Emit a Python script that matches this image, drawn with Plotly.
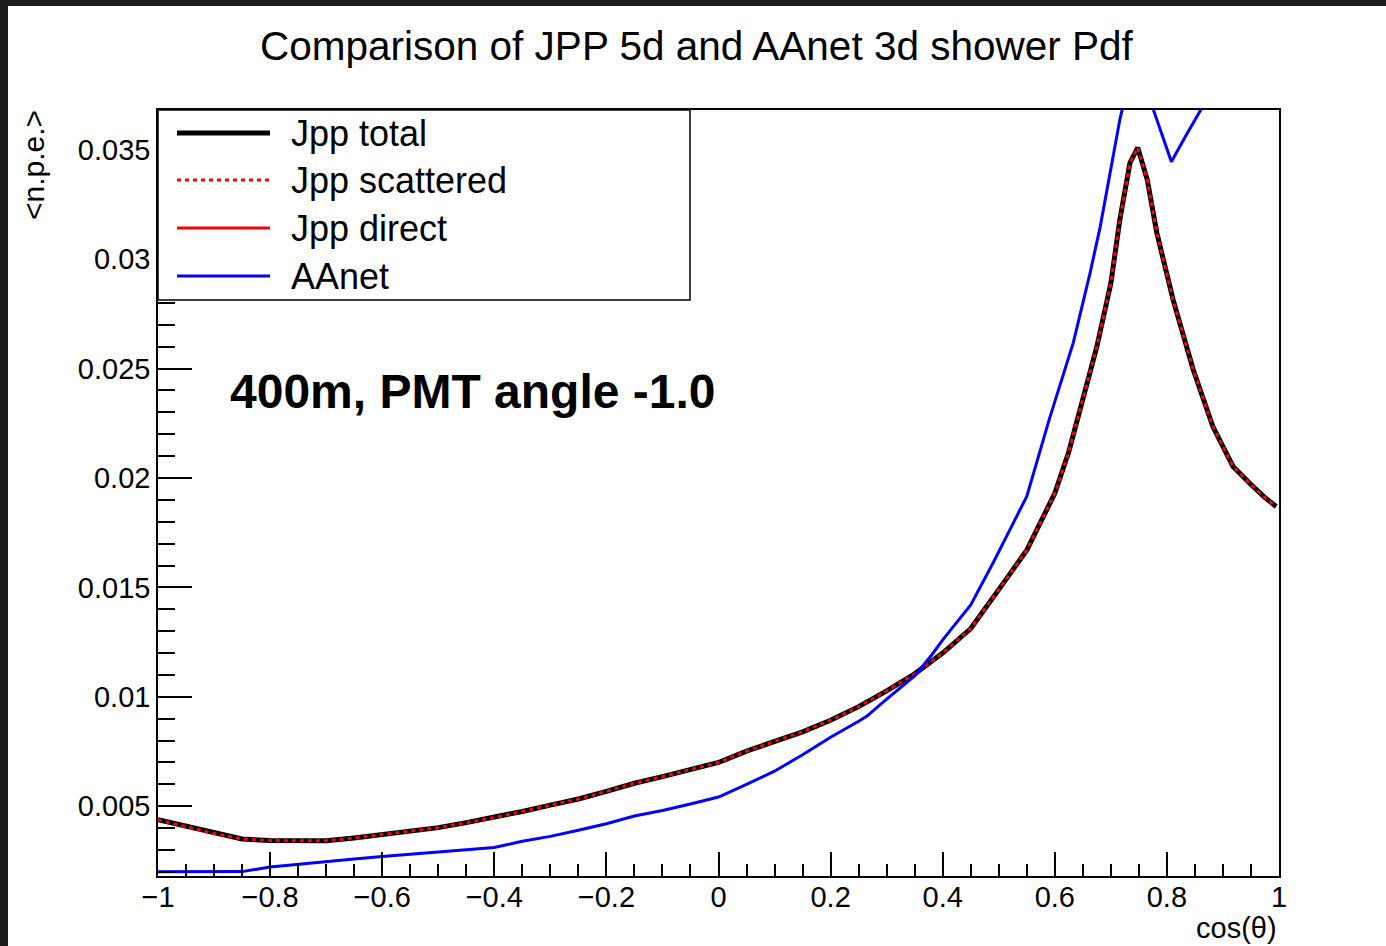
import plotly.graph_objects as go

# ---------------- data ----------------
cos_jpp = [-1.00, -0.95, -0.90, -0.85, -0.80, -0.75, -0.70, -0.65, -0.60, -0.55,
           -0.50, -0.45, -0.40, -0.35, -0.30, -0.25, -0.20, -0.15, -0.10, -0.05,
           0.00, 0.05, 0.10, 0.15, 0.20, 0.25, 0.30, 0.35, 0.40, 0.45,
           0.50, 0.55, 0.60, 0.625, 0.65, 0.675, 0.70, 0.716, 0.734, 0.748,
           0.765, 0.782, 0.811, 0.847, 0.882, 0.918, 0.95, 0.975, 0.995]
jpp_total = [0.00438, 0.00408, 0.00375, 0.00350, 0.00343, 0.00342, 0.00342, 0.00355, 0.00370, 0.00384,
             0.00402, 0.00425, 0.00448, 0.00476, 0.00505, 0.00533, 0.00568, 0.00605, 0.00635, 0.00667,
             0.00700, 0.00752, 0.00797, 0.00840, 0.00893, 0.00955, 0.01027, 0.01105, 0.01200, 0.01312,
             0.01490, 0.01670, 0.01930, 0.02120, 0.02360, 0.02600, 0.02890, 0.03180, 0.03440, 0.03510,
             0.03363, 0.03121, 0.02815, 0.02495, 0.02235, 0.02053, 0.01970, 0.01910, 0.01870]
jpp_scattered = [0.00438, 0.00408, 0.00375, 0.00350, 0.00343, 0.00342, 0.00342, 0.00355, 0.00370, 0.00384,
                 0.00402, 0.00425, 0.00448, 0.00476, 0.00505, 0.00533, 0.00568, 0.00605, 0.00635, 0.00667,
                 0.00700, 0.00752, 0.00797, 0.00840, 0.00893, 0.00955, 0.01027, 0.01105, 0.01200, 0.01312,
                 0.01490, 0.01670, 0.01930, 0.02120, 0.02360, 0.02600, 0.02890, 0.03180, 0.03440, 0.03510,
                 0.03363, 0.03121, 0.02815, 0.02495, 0.02235, 0.02053, 0.01970, 0.01910, 0.01870]
cos_direct = [-1.0, -0.5, 0.0, 0.5, 1.0]
jpp_direct = [0.0, 0.0, 0.0, 0.0, 0.0]

cos_aanet = [-1.00, -0.95, -0.90, -0.85, -0.80, -0.75, -0.70, -0.65, -0.60, -0.55,
             -0.50, -0.45, -0.40, -0.35, -0.30, -0.25, -0.20, -0.15, -0.10, -0.05,
             0.00, 0.05, 0.10, 0.15, 0.20, 0.25, 0.265, 0.30, 0.35, 0.38,
             0.40, 0.45, 0.49, 0.55, 0.59, 0.633, 0.663, 0.681, 0.699, 0.716,
             0.735, 0.75, 0.775, 0.808, 0.835, 0.862, 0.90, 0.95, 1.00]
aanet = [0.00200, 0.00200, 0.00200, 0.00201, 0.00222, 0.00235, 0.00247, 0.00259, 0.00270, 0.00280,
         0.00290, 0.00299, 0.00311, 0.00340, 0.00362, 0.00390, 0.00420, 0.00455, 0.00480, 0.00510,
         0.00542, 0.00600, 0.00660, 0.00735, 0.00815, 0.00888, 0.00912, 0.00989, 0.01095, 0.01190,
         0.01260, 0.01420, 0.01613, 0.01916, 0.02267, 0.02619, 0.02938, 0.03148, 0.03395, 0.03637,
         0.03850, 0.03950, 0.03690, 0.03445, 0.03570, 0.03690, 0.03860, 0.04080, 0.04300]

x_ticks = [-1, -0.8, -0.6, -0.4, -0.2, 0, 0.2, 0.4, 0.6, 0.8, 1]
y_ticks = [0.005, 0.01, 0.015, 0.02, 0.025, 0.03, 0.035]

legend_names = ["Jpp total", "Jpp scattered", "Jpp direct", "AAnet"]

# ---------------- layout geometry ----------------
W, H = 1386, 946
L, R, T, B = 158, 1279, 110, 876
PW, PH = R - L, B - T


def px(xp):
    return (xp - L) / PW


def py(yp):
    return (B - yp) / PH


FONT = "Liberation Sans, Arial, Helvetica, sans-serif"
DOT = "4px,4px"

fig = go.Figure()
fig.add_trace(go.Scatter(x=cos_jpp, y=jpp_total, mode="lines", name=legend_names[0],
                         line=dict(color="black", width=5), showlegend=False))
fig.add_trace(go.Scatter(x=cos_jpp, y=jpp_scattered, mode="lines", name=legend_names[1],
                         line=dict(color="red", width=3, dash=DOT), showlegend=False))
fig.add_trace(go.Scatter(x=cos_direct, y=jpp_direct, mode="lines", name=legend_names[2],
                         line=dict(color="red", width=3), showlegend=False))
fig.add_trace(go.Scatter(x=cos_aanet, y=aanet, mode="lines", name=legend_names[3],
                         line=dict(color="blue", width=3), showlegend=False))

shapes = []
annotations = []

# dark frame of the screenshot
shapes.append(dict(type="rect", xref="paper", yref="paper", x0=px(0), x1=px(8), y0=py(H), y1=py(0),
                   fillcolor="#1c1c1c", line=dict(width=0), layer="above"))
shapes.append(dict(type="rect", xref="paper", yref="paper", x0=px(0), x1=px(W), y0=py(6), y1=py(0),
                   fillcolor="#1c1c1c", line=dict(width=0), layer="above"))

# legend box
shapes.append(dict(type="rect", xref="paper", yref="paper", x0=px(158), x1=px(690), y0=py(300), y1=py(110),
                   fillcolor="white", line=dict(color="black", width=1.5), layer="above"))
leg_y = [133, 180, 228, 276]
leg_style = [dict(color="black", width=5), dict(color="red", width=3, dash=DOT),
             dict(color="red", width=3), dict(color="blue", width=3)]
for name, yy, st in zip(legend_names, leg_y, leg_style):
    shapes.append(dict(type="line", xref="paper", yref="paper", x0=px(177), x1=px(270), y0=py(yy), y1=py(yy),
                       line=st, layer="above"))
    annotations.append(dict(text=name, xref="paper", yref="paper", x=px(289), y=py(yy), xanchor="left",
                            yanchor="middle", showarrow=False, font=dict(family=FONT, size=36, color="black")))

# title
annotations.append(dict(text="Comparison of JPP 5d and AAnet 3d shower Pdf", xref="paper", yref="paper",
                        x=px(697), y=py(46), xanchor="center", yanchor="middle", showarrow=False,
                        font=dict(family=FONT, size=40.5, color="black")))
# label
annotations.append(dict(text="<b>400m, PMT angle -1.0</b>", xref="paper", yref="paper",
                        x=px(228), y=py(392), xanchor="left", yanchor="middle", showarrow=False,
                        font=dict(family=FONT, size=48, color="black")))
# axis titles
annotations.append(dict(text="cos(θ)", xref="paper", yref="paper", x=1, y=py(928), xanchor="right",
                        yanchor="middle", showarrow=False, font=dict(family=FONT, size=29, color="black")))
annotations.append(dict(text="<n.p.e.>", xref="paper", yref="paper", x=px(33), y=py(108), xanchor="center",
                        yanchor="top", textangle=-90, showarrow=False,
                        font=dict(family=FONT, size=30, color="black")))

fig.update_layout(
    width=W, height=H,
    margin=dict(l=L, r=W - R, t=T, b=H - B, pad=0),
    paper_bgcolor="white", plot_bgcolor="white",
    showlegend=False,
    shapes=shapes, annotations=annotations,
    font=dict(family=FONT, size=29, color="black"),
    xaxis=dict(range=[-1, 1], tickvals=x_ticks, showgrid=False, zeroline=False,
               showline=True, linecolor="black", linewidth=1.5, mirror=True,
               ticks="inside", ticklen=24, tickwidth=1.5, tickcolor="black",
               ticklabelstandoff=-6,
               tickfont=dict(family=FONT, size=29, color="black"),
               minor=dict(dtick=0.05, ticks="inside", ticklen=12, tickwidth=1.5, tickcolor="black", showgrid=False)),
    yaxis=dict(range=[0.00181, 0.03682], tickvals=y_ticks, showgrid=False, zeroline=False,
               showline=True, linecolor="black", linewidth=1.5, mirror=True,
               ticks="inside", ticklen=34, tickwidth=1.5, tickcolor="black",
               ticklabelstandoff=0,
               tickfont=dict(family=FONT, size=29, color="black"),
               minor=dict(dtick=0.001, ticks="inside", ticklen=17, tickwidth=1.5, tickcolor="black", showgrid=False)),
)

fig.write_html("out.html")
